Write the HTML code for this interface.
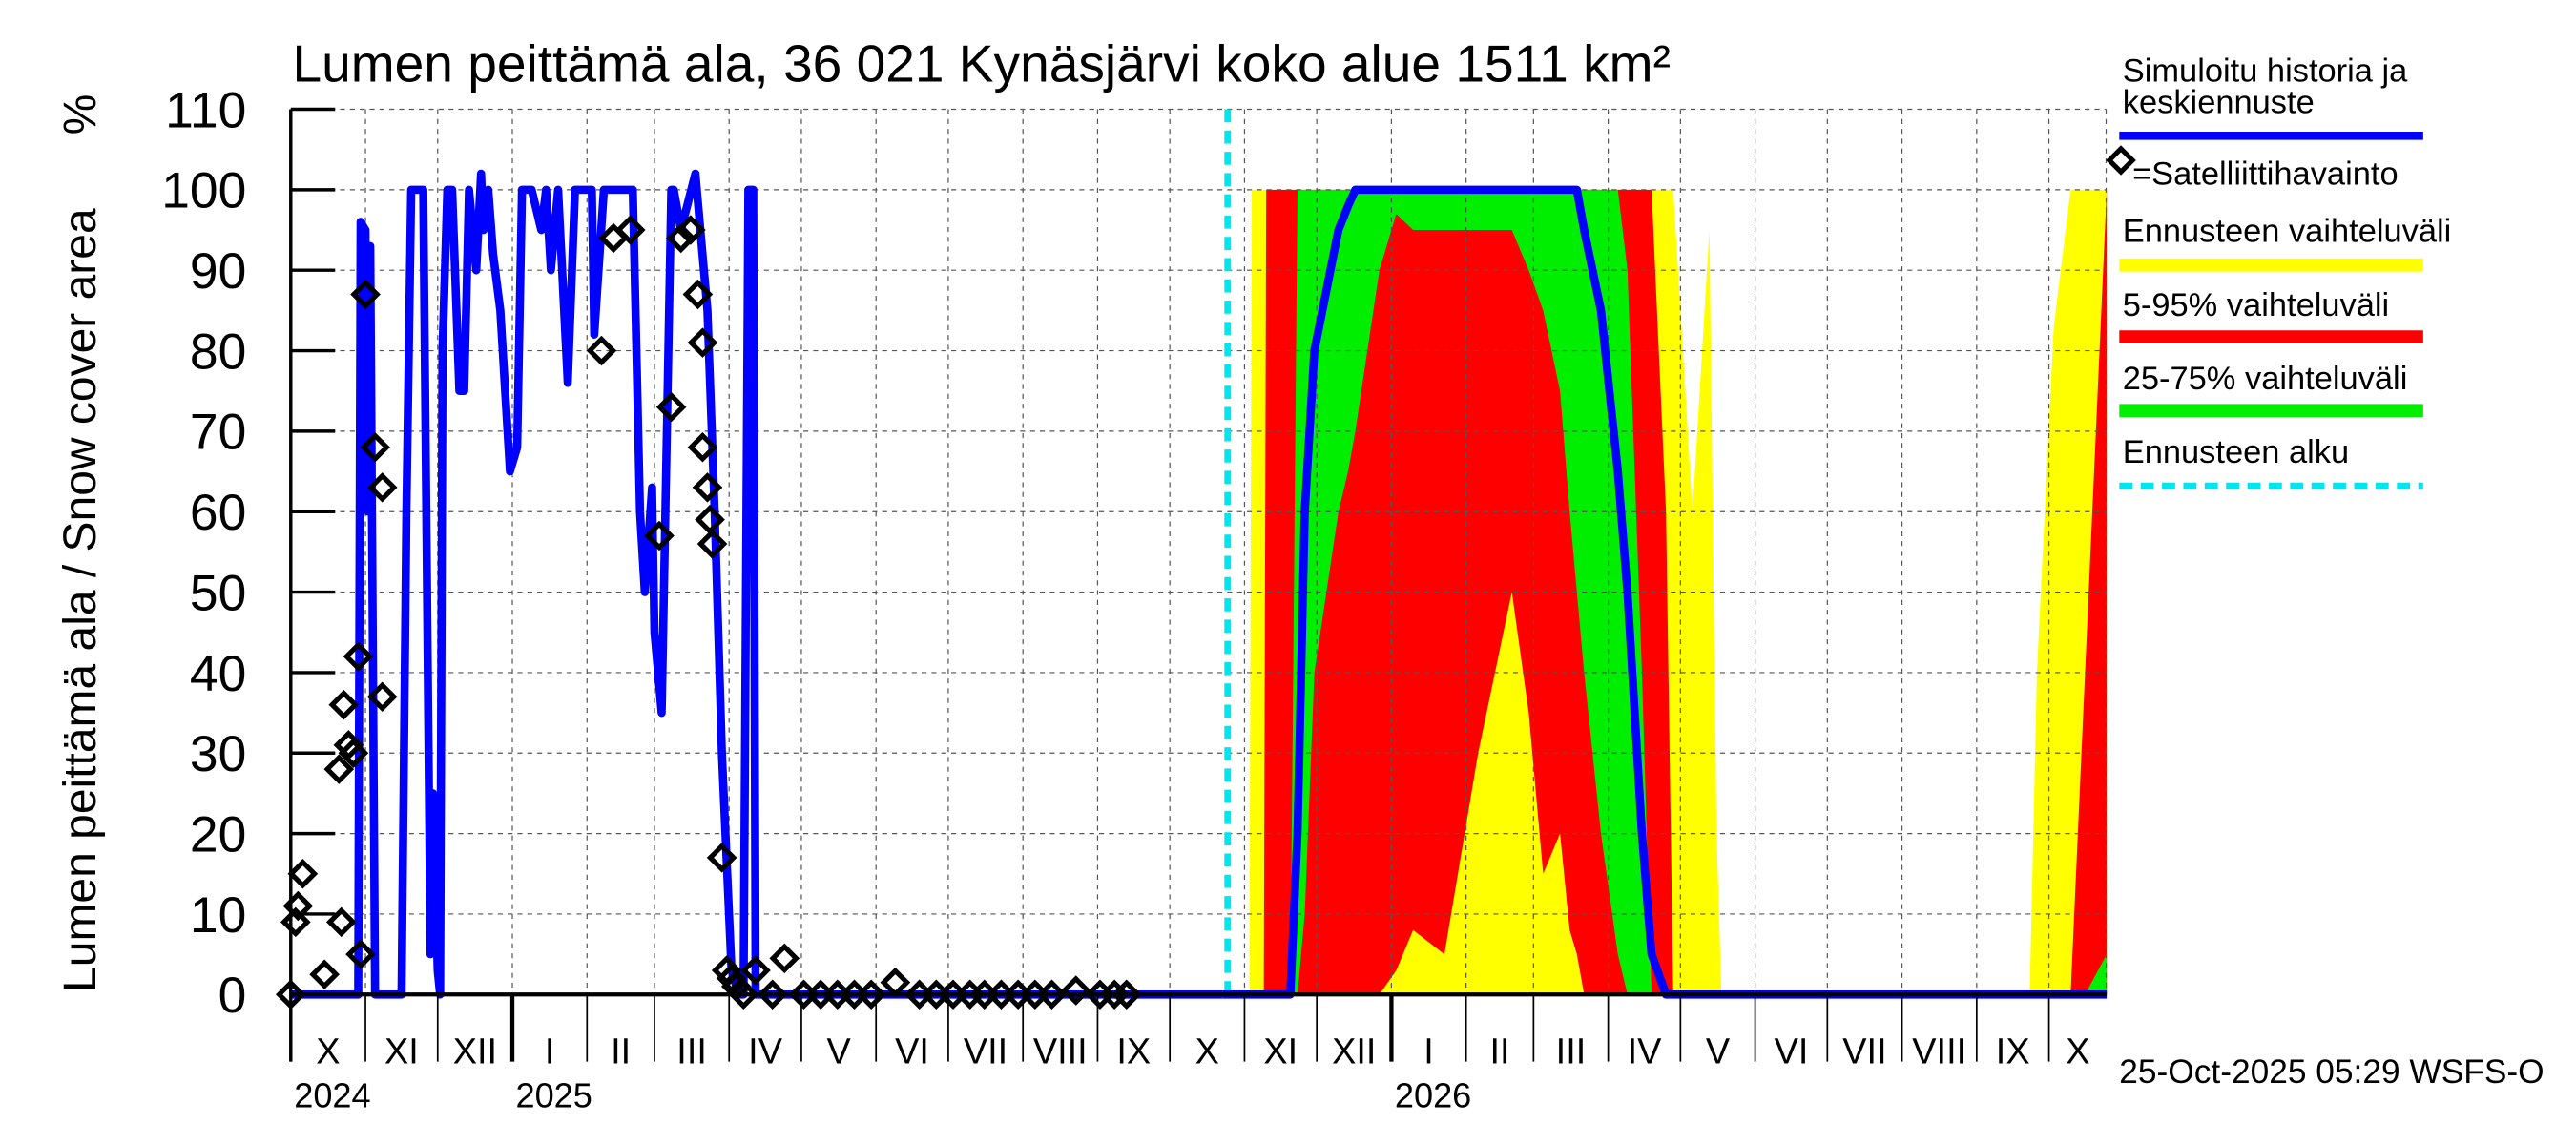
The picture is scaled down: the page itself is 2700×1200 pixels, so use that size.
<!DOCTYPE html>
<html><head><meta charset="utf-8"><style>
html,body{margin:0;padding:0;background:#fff;}
svg{display:block;font-family:"Liberation Sans",sans-serif;}
</style></head><body>
<svg id="chart" width="2700" height="1200" viewBox="0 0 1568 700" preserveAspectRatio="none" xmlns="http://www.w3.org/2000/svg">
<rect width="1568" height="700" fill="#fff"/>
<g id="bands"></g>
<g id="grid"></g>
<g id="series"></g>
<g id="axes"></g>
<text x="178" y="50" font-size="32">Lumen peittämä ala, 36 021 Kynäsjärvi koko alue 1511 km²</text>
<text transform="translate(58,367) rotate(-90)" text-anchor="middle" font-size="28">Lumen peittämä ala / Snow cover area</text>
<text transform="translate(58,70) rotate(-90)" text-anchor="middle" font-size="28">%</text>
<g font-size="20">
<text x="1292" y="50">Simuloitu historia ja</text>
<text x="1292" y="69">keskiennuste</text>
<line x1="1290" y1="83" x2="1475" y2="83" stroke="#0000ff" stroke-width="5"/>
<rect x="1286" y="93" width="10" height="10" transform="rotate(45 1291 98)" fill="none" stroke="#000" stroke-width="3"/>
<text x="1298" y="113">=Satelliittihavainto</text>
<text x="1292" y="148">Ennusteen vaihteluväli</text>
<line x1="1290" y1="162" x2="1475" y2="162" stroke="#ffff00" stroke-width="8"/>
<text x="1292" y="193">5-95% vaihteluväli</text>
<line x1="1290" y1="206" x2="1475" y2="206" stroke="#ff0000" stroke-width="8"/>
<text x="1292" y="238">25-75% vaihteluväli</text>
<line x1="1290" y1="251" x2="1475" y2="251" stroke="#00ee00" stroke-width="8"/>
<text x="1292" y="283">Ennusteen alku</text>
<line x1="1290" y1="297" x2="1475" y2="297" stroke="#00e5ee" stroke-width="4" stroke-dasharray="8,5"/>
</g>
<text x="1290" y="662" font-size="20.5">25-Oct-2025 05:29 WSFS-O</text>
</svg>
<script>
// days since 2024-10-01
const histDays=[0,28,29,31,32,33,35,46,48,50,55,58,59,61,62,63,65,67,70,72,74,77,79,80,82,84,87,91,94,96,100,104,106,108,111,115,118,121,125,126,130,136,142,145,147,150,151,154,158,159,162,168,173,176,179,183,186,188,190,192,193,387];
const histVals=[0,0,96,95,60,93,0,0,60,100,100,5,25,3,0,80,100,100,75,75,100,90,102,95,100,92,85,65,68,100,100,95,100,90,100,76,100,100,100,82,100,100,100,60,50,63,45,35,100,100,95,102,85,60,30,3,0,0,100,100,0,0];
const obsDays=[0,2,3,5,14,20,21,22,24,26,28,29,31,35,38,38,129,134,141,153,158,162,166,169,171,171,173,174,175,179,181,183,185,188,193,200,205,213,220,227,234,241,251,261,268,275,282,288,295,302,309,316,326,336,342,347];
const obsVals=[0,9,11,15,2.5,28,9,36,31,30,42,5,87,68,63,37,80,94,95,57,73,94,95,87,81,68,63,59,56,17,3,2,1,0,3,0,4.5,0,0,0,0,0,1.5,0,0,0,0,0,0,0,0,0,0.5,0,0,0];
const bandDays=[387,398,399,404,405,408,409,415,418,421,425,435,439,442,452,459,466,479,493,507,514,520,527,531,534,537,544,551,555,561,565,571,574,582,589,592,594,722,725,732,739,745,754];
const yellowUpper=[0,0,100,100,100,100,100,100,100,100,100,100,100,100,100,100,100,100,100,100,100,100,100,100,100,100,100,100,100,100,100,100,100,60,95,20,0,0,40,83,100,100,100];
const redUpper=[0,0,0,0,100,100,100,100,100,100,100,100,100,100,100,100,100,100,100,100,100,100,100,100,100,100,100,100,100,100,100,60,0,0,0,0,0,0,0,0,0,40,100];
const redLower=[0,0,0,0,0,0,0,0,0,0,0,0,0,0,0,3,8,5,30,50,35,15,20,8,5,0,0,0,0,0,0,0,0,0,0,0,0,0,0,0,0,0,0];
const greenUpper=[0,0,0,0,0,0,0,0,100,100,100,100,100,100,100,100,100,100,100,100,100,100,100,100,100,100,100,100,90,40,0,0,0,0,0,0,0,0,0,0,0,0,5];
const greenLower=[0,0,0,0,0,0,0,0,0,10,40,60,65,70,90,97,95,95,95,95,90,85,75,60,50,40,20,5,0,0,0,0,0,0,0,0,0,0,0,0,0,0,0];
const medianVals=[0,0,0,0,0,0,0,0,20,60,80,95,98,100,100,100,100,100,100,100,100,100,100,100,100,95,85,65,50,20,5,0,0,0,0,0,0,0,0,0,0,0,0];
const yTicks=[0,10,20,30,40,50,60,70,80,90,100,110];
const monthLabels=["X","XI","XII","I","II","III","IV","V","VI","VII","VIII","IX","X","XI","XII","I","II","III","IV","V","VI","VII","VIII","IX","X"];
const yearLabels=["2024","2025","2026"];
const forecastStartDay=389;

const X0=177,X1=1282,Y0=608,PXD=1.466,PXV=4.92,NS="http://www.w3.org/2000/svg";
const xs=d=>X0+d*PXD, ys=v=>Y0-v*PXV;
function mk(tag,parent,attrs){const e=document.createElementNS(NS,tag);for(const k in attrs)e.setAttribute(k,attrs[k]);parent.appendChild(e);return e;}
const gB=document.getElementById('bands'),gG=document.getElementById('grid'),gS=document.getElementById('series'),gA=document.getElementById('axes');
function band(up,lo,color,name){
  let pts=bandDays.map((d,i)=>xs(d)+','+ys(up[i]));
  for(let i=bandDays.length-1;i>=0;i--)pts.push(xs(bandDays[i])+','+ys(lo[i]));
  const p=mk('polygon',gB,{points:pts.join(' '),fill:color});
  
  
}
band(yellowUpper,bandDays.map(()=>0),'#ffff00','band-yellow');
band(redUpper,redLower,'#ff0000','band-red');
band(greenUpper,greenLower,'#00ee00','band-green');
yTicks.forEach(v=>{
  const l=mk('line',gG,{x1:X0,x2:X1,y1:ys(v),y2:ys(v),stroke:'#555','stroke-width':0.7,'stroke-dasharray':'3,3'});
  
  
  const t=mk('text',gA,{x:150,y:ys(v)+11,'text-anchor':'end','font-size':31});
  t.textContent=v;
  
  
  mk('line',gA,{x1:X0,x2:X0+27,y1:ys(v),y2:ys(v),stroke:'#000','stroke-width':2});
});
const base=Date.UTC(2024,9,1);
const bounds=[];
for(let m=0;m<=25;m++){const dt=Date.UTC(2024,9+m,1);bounds.push((dt-base)/86400000);}
bounds.push(754);
for(let i=0;i<monthLabels.length;i++){
  const a=bounds[i],b=Math.min(bounds[i+1],754);
  const x=xs(a);
  const isYear=(new Date(base+a*86400000)).getUTCMonth()===0;
  if(i>0){mk('line',gG,{x1:x,x2:x,y1:ys(110),y2:Y0,stroke:'#555','stroke-width':0.7,'stroke-dasharray':'3,3'});}
  mk('line',gA,{x1:x,x2:x,y1:Y0,y2:649,stroke:'#000','stroke-width':isYear?2.5:1});
  const t=mk('text',gA,{x:(xs(a)+xs(b))/2,y:650,'text-anchor':'middle','font-size':22});
  t.textContent=monthLabels[i];
  
  
}
mk('line',gG,{x1:X1,x2:X1,y1:ys(110),y2:Y0,stroke:'#555','stroke-width':0.7,'stroke-dasharray':'3,3'});
const yearX=[xs(0)+2,xs(bounds[3])+2,xs(bounds[15])+2];
yearLabels.forEach((y,i)=>{const t=mk('text',gA,{x:yearX[i],y:677,'font-size':21});t.textContent=y;
  
  });
mk('line',gA,{x1:X0,x2:X0,y1:ys(110),y2:649,stroke:'#000','stroke-width':2});
mk('line',gA,{x1:X0,x2:X1,y1:Y0,y2:Y0,stroke:'#000','stroke-width':2.5});
const fs=mk('line',gS,{x1:xs(forecastStartDay),x2:xs(forecastStartDay),y1:ys(110),y2:Y0,stroke:'#00e5ee','stroke-width':4,'stroke-dasharray':'8,5'});


const hl=mk('polyline',gS,{points:histDays.map((d,i)=>xs(d)+','+ys(histVals[i])).join(' '),fill:'none',stroke:'#0000ff','stroke-width':5,'stroke-linejoin':'round'});


const ml=mk('polyline',gS,{points:bandDays.map((d,i)=>xs(d)+','+ys(medianVals[i])).join(' '),fill:'none',stroke:'#0000ff','stroke-width':5,'stroke-linejoin':'round'});


obsDays.forEach((d,i)=>{
  const cx=xs(d),cy=ys(obsVals[i]);
  const r=mk('rect',gS,{x:cx-5,y:cy-5,width:10,height:10,transform:`rotate(45 ${cx} ${cy})`,fill:'none',stroke:'#000','stroke-width':3});
  
  
});
</script>
</body></html>
